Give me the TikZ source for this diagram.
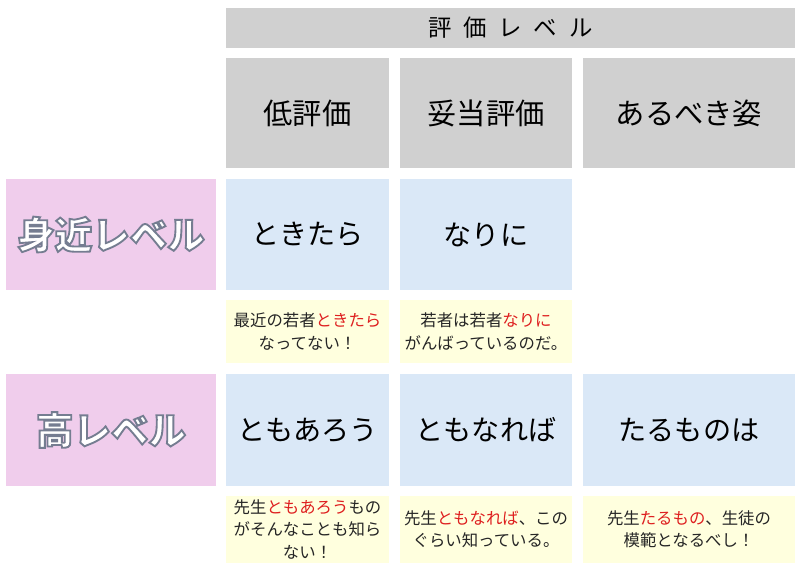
\documentclass[tikz,border=0pt]{standalone}
\usepackage{fontspec}
\usetikzlibrary{positioning}
\newfontfamily\jp{Noto Sans CJK JP}
\definecolor{headgray}{RGB}{208,208,208}
\definecolor{cellblue}{RGB}{218,232,247}
\definecolor{levelpink}{RGB}{240,205,236}
\definecolor{noteyellow}{RGB}{255,255,222}
\definecolor{notered}{RGB}{222,32,32}
\newcommand{\hl}[1]{\textcolor{notered}{#1}}
\newcommand{\gap}{\hspace{.5em}}
% white letters with a grey rim (fill and stroke)
\newcommand{\rimtext}[1]{\special{pdf:code 2 Tr 1.6 w 0.46 0.49 0.57 RG}#1\special{pdf:code 0 Tr}}
\tikzset{
  box/.style={inner sep=0pt, outer sep=0pt, align=center, font=\jp},
  wlow/.style={minimum width=4.89cm},
  wfair/.style={minimum width=5.16cm},
  wideal/.style={minimum width=6.36cm},
  headbox/.style={box, fill=headgray, minimum height=3.3cm, font=\jp\fontsize{25}{30}\selectfont},
  cellbox/.style={box, fill=cellblue, minimum height=3.33cm, font=\jp\fontsize{24}{29}\selectfont},
  levelbox/.style={box, fill=levelpink, minimum width=6.3cm, minimum height=3.33cm,
    text=white, font=\jp\bfseries\fontsize{32}{38}\selectfont},
  notebox/.style={box, fill=noteyellow, text=black!85, font=\jp\fontsize{14}{19}\selectfont},
}
\begin{document}
\begin{tikzpicture}
  \useasboundingbox (0,0) rectangle (24,-17.13);
  \node [box, fill=headgray, minimum width=17.07cm, minimum height=1.2cm, anchor=north west,
    font=\jp\fontsize{20}{24}\selectfont] (title) at (6.78,-0.24) {評\gap 価\gap レ\gap ベ\gap ル};
  \node [headbox, wlow, below right=0.3cm and 0cm of title.south west] (low) {低評価};
  \node [headbox, wfair, right=0.33cm of low] (fair) {妥当評価};
  \node [headbox, wideal, right=0.33cm of fair] (ideal) {あるべき姿};
  % 身近レベル
  \node [cellbox, wlow, below=0.33cm of low] (nearlow) {ときたら};
  \node [cellbox, wfair, below=0.33cm of fair] (nearfair) {なりに};
  \node [levelbox, left=0.3cm of nearlow] (near) {\rimtext{身近レベル}};
  \node [notebox, wlow, minimum height=1.89cm, below=0.3cm of nearlow] (notenearlow)
    {最近の若者\hl{ときたら}\\なってない！};
  \node [notebox, wfair, minimum height=1.89cm, below=0.3cm of nearfair] (notenearfair)
    {若者は若者\hl{なりに}\\がんばっているのだ。};
  % 高レベル
  \node [cellbox, wlow, minimum height=3.36cm, below=0.33cm of notenearlow] (highlow) {ともあろう};
  \node [cellbox, wfair, minimum height=3.36cm, below=0.33cm of notenearfair] (highfair) {ともなれば};
  \node [cellbox, wideal, minimum height=3.36cm, right=0.33cm of highfair] (highideal) {たるものは};
  \node [levelbox, minimum height=3.36cm, left=0.3cm of highlow] (high) {\rimtext{高レベル}};
  \node [notebox, wlow, minimum height=2.01cm, below=0.3cm of highlow] (notehighlow)
    {先生\hl{ともあろう}もの\\がそんなことも知ら\\ない！};
  \node [notebox, wfair, minimum height=2.01cm, below=0.3cm of highfair] (notehighfair)
    {先生\hl{ともなれば}、この\\ぐらい知っている。};
  \node [notebox, wideal, minimum height=2.01cm, below=0.3cm of highideal] (notehighideal)
    {先生\hl{たるもの}、生徒の\\模範となるべし！};
\end{tikzpicture}
\end{document}
